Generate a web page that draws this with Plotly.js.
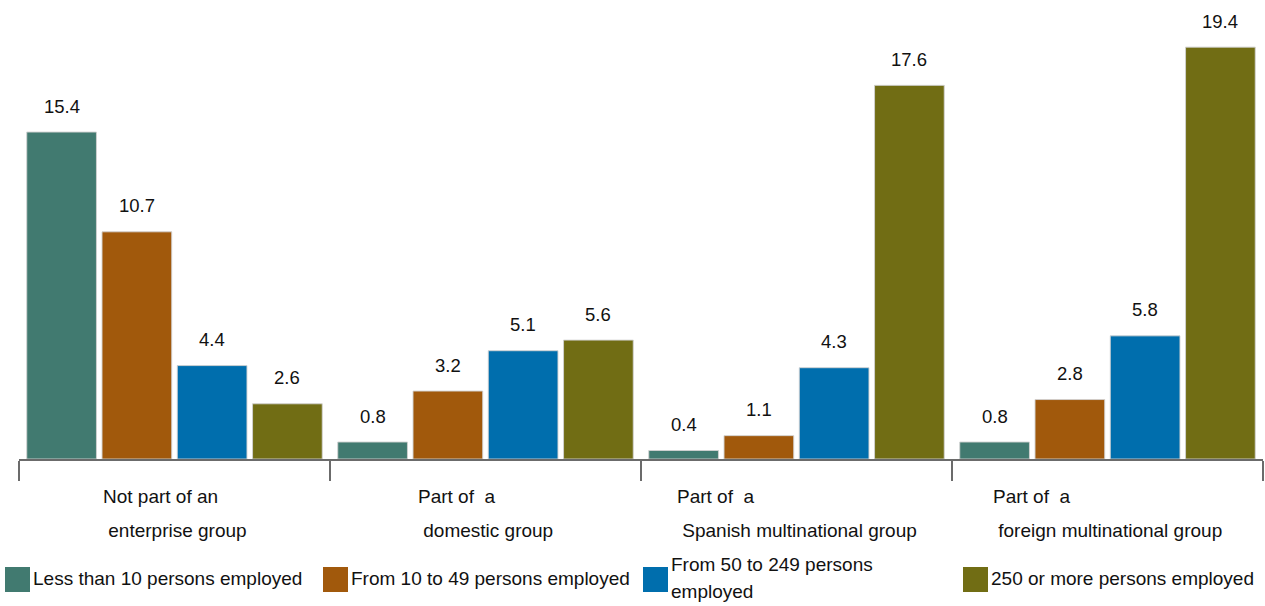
<!DOCTYPE html>
<html>
<head>
<meta charset="utf-8">
<script src="https://cdn.plot.ly/plotly-3.0.1.min.js"></script>
<style>html,body{margin:0;padding:0;background:#fff;}#chart{width:1265px;height:606px;}</style>
</head>
<body>
<div id="chart"></div>
<script>
// ---- data ----
const categories = ['Not part of an enterprise group', 'Part of a domestic group', 'Part of a Spanish multinational group', 'Part of a foreign multinational group'];
const categoryLine1 = ['Not part of an', 'Part of&nbsp; a', 'Part of&nbsp; a', 'Part of&nbsp; a'];
const categoryLine2 = ['enterprise group', 'domestic group', 'Spanish multinational group', 'foreign multinational group'];
const seriesNames = ['Less than 10 persons employed', 'From 10 to 49 persons employed', 'From 50 to 249 persons employed', '250 or more persons employed'];
const legendLabels = ['Less than 10 persons employed', 'From 10 to 49 persons employed', 'From 50 to 249 persons<br>employed', '250 or more persons employed'];
const lessThan10 = [15.4, 0.8, 0.4, 0.8];
const from10to49 = [10.7, 3.2, 1.1, 2.8];
const from50to249 = [4.4, 5.1, 4.3, 5.8];
const over250 = [2.6, 5.6, 17.6, 19.4];
const seriesValues = [lessThan10, from10to49, from50to249, over250];
const seriesColors = ['#417a70', '#a1590c', '#006ead', '#716d14'];

// ---- layout helpers ----
const W = 1265, H = 606;
const M = {l: 19, r: 2, t: 0, b: 147};
const pw = W - M.l - M.r, ph = H - M.t - M.b;
const px = x => (x - M.l) / pw;
const py = y => (H - M.b - y) / ph;
const bargap = 0.032, bargroupgap = 0.074;
const slot = pw / categories.length * (1 - bargap) / seriesValues.length;
const FONT = 'Liberation Sans, Arial, sans-serif';
const TXT = 19;

const traces = seriesValues.map((vals, i) => ({
  type: 'bar',
  name: seriesNames[i],
  x: categories,
  y: vals,
  marker: {color: seriesColors[i], line: {color: 'rgba(210,210,210,0.9)', width: 1}},
  hoverinfo: 'x+y+name'
}));

const annotations = [];
seriesValues.forEach((vals, s) => {
  vals.forEach((v, j) => {
    annotations.push({
      x: categories[j], y: v, xref: 'x', yref: 'y',
      xshift: (s - (seriesValues.length - 1) / 2) * slot, yshift: 26,
      text: v.toFixed(1), showarrow: false, yanchor: 'middle',
      font: {family: FONT, size: 18.5, color: '#111'}
    });
  });
});
categories.forEach((c, j) => {
  annotations.push({
    x: c, xref: 'x', y: py(513), yref: 'paper', yanchor: 'middle', xanchor: 'center',
    align: 'left', showarrow: false,
    text: '<span style="font-size:' + TXT + 'px">' + categoryLine1[j] + '</span><br><span style="font-size:' + TXT + 'px">&nbsp;' + categoryLine2[j] + '</span>',
    font: {family: FONT, size: 26, color: '#111'}
  });
});

const legendX = [5, 323, 643, 963];
const shapes = [];
legendLabels.forEach((lab, i) => {
  shapes.push({
    type: 'rect', xref: 'paper', yref: 'paper',
    x0: px(legendX[i]), x1: px(legendX[i] + 25), y0: py(592), y1: py(567),
    fillcolor: seriesColors[i], line: {width: 0}
  });
  annotations.push({
    xref: 'paper', yref: 'paper', x: px(legendX[i] + 26), y: py(578),
    xanchor: 'left', yanchor: 'middle', align: 'left', showarrow: false,
    text: lab.split('<br>').map(t => '<span style="font-size:' + TXT + 'px">' + t + '</span>').join('<br>'),
    font: {family: FONT, size: 21, color: '#111'}
  });
});

const layout = {
  width: W, height: H,
  margin: M,
  paper_bgcolor: '#fff', plot_bgcolor: '#fff',
  barmode: 'group', bargap: bargap, bargroupgap: bargroupgap,
  showlegend: false,
  font: {family: FONT, size: 17, color: '#111'},
  xaxis: {
    type: 'category', range: [-0.5, 3.5], showticklabels: false,
    showline: true, linecolor: '#6b6b6b', linewidth: 2,
    ticks: 'outside', tickson: 'boundaries', ticklen: 20, tickwidth: 2, tickcolor: '#6b6b6b',
    showgrid: false, zeroline: false, fixedrange: true
  },
  yaxis: {
    range: [0, ph / 21.23], visible: false, showgrid: false, zeroline: false, fixedrange: true
  },
  annotations: annotations,
  shapes: shapes
};

Plotly.newPlot('chart', traces, layout, {displayModeBar: false, staticPlot: true});
</script>
</body>
</html>
